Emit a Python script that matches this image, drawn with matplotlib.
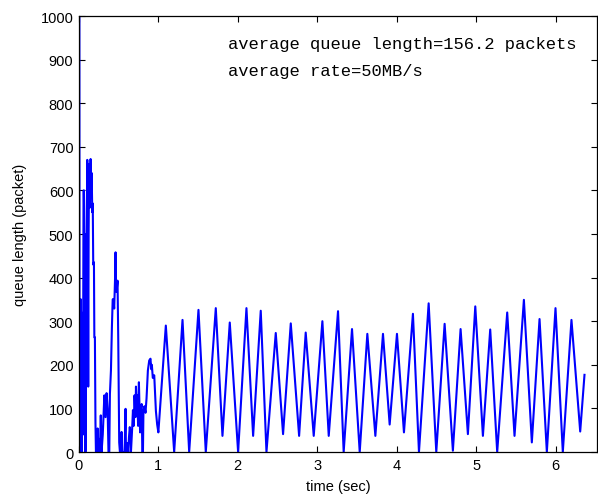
import matplotlib
matplotlib.use('Agg')
import matplotlib.pyplot as plt

# queue trace: time (s) and queue length (packets)
# start-up transient (0 - 1 s)
t_start = [0.000, 0.003, 0.008, 0.020, 0.025, 0.028, 0.032, 0.036, 0.046, 0.050,
           0.058, 0.063, 0.068, 0.075, 0.080, 0.084, 0.092, 0.100, 0.105, 0.110,
           0.117, 0.122, 0.128, 0.134, 0.138, 0.147, 0.155, 0.160, 0.168, 0.174,
           0.180, 0.189, 0.194, 0.201, 0.208, 0.214, 0.228, 0.235, 0.243, 0.255,
           0.264, 0.275, 0.285, 0.300, 0.320, 0.335, 0.348, 0.361, 0.372, 0.382,
           0.390, 0.403, 0.415, 0.425, 0.432, 0.444, 0.455, 0.461, 0.468, 0.474,
           0.486, 0.495, 0.507, 0.516, 0.530, 0.537, 0.545, 0.575, 0.587, 0.592,
           0.610, 0.621, 0.630, 0.640, 0.650, 0.655, 0.670, 0.680, 0.690, 0.700,
           0.712, 0.718, 0.725, 0.735, 0.745, 0.755, 0.770, 0.780, 0.790, 0.798,
           0.806, 0.812, 0.825, 0.838, 0.851, 0.868, 0.885, 0.901, 0.910, 0.918,
           0.930, 0.948, 0.969, 0.985]
q_start = [0, 1000, 0, 0, 350, 100, 320, 0, 220, 40,
           600, 600, 480, 500, 0, 0, 300, 560, 670, 620,
           150, 500, 660, 560, 615, 672, 600, 640, 550, 570,
           430, 435, 263, 263, 68, 0, 0, 54, 0, 30,
           0, 84, 0, 40, 130, 80, 135, 100, 0, 0,
           133, 187, 286, 350, 351, 329, 400, 458, 370, 367,
           393, 259, 22, 0, 0, 46, 0, 0, 99, 0,
           20, 0, 34, 57, 40, 0, 54, 96, 60, 130,
           80, 150, 110, 130, 60, 160, 45, 100, 110, 0,
           0, 94, 105, 90, 123, 187, 210, 214, 190, 200,
           170, 176, 94, 63]

# steady oscillation: successive troughs and peaks
t_osc = [1.000, 1.094, 1.199, 1.304, 1.388, 1.505, 1.597, 1.723, 1.807, 1.899,
         2.004, 2.109, 2.193, 2.289, 2.361, 2.478, 2.570, 2.667, 2.772, 2.855,
         2.956, 3.065, 3.145, 3.262, 3.333, 3.438, 3.535, 3.631, 3.732, 3.828,
         3.912, 4.004, 4.092, 4.205, 4.281, 4.403, 4.499, 4.604, 4.708, 4.805,
         4.897, 4.990, 5.086, 5.178, 5.266, 5.392, 5.484, 5.602, 5.702, 5.799,
         5.891, 6.000, 6.092, 6.201, 6.311, 6.365]
q_osc = [45, 290, 0, 303, 0, 326, 0, 330, 37, 297,
         0, 330, 37, 324, 0, 273, 41, 295, 37, 274,
         37, 300, 37, 323, 0, 282, 0, 271, 37, 271,
         63, 271, 45, 317, 0, 341, 0, 294, 3, 282,
         41, 334, 37, 281, 0, 320, 37, 349, 22, 305,
         0, 330, 0, 303, 47, 177]

texto = ['average queue length=156.2 packets', 'average rate=50MB/s']

t = t_start + t_osc
q = q_start + q_osc

fig = plt.figure(figsize=(5.98, 5.02), dpi=100)
ax = fig.add_axes([0.132, 0.0976, 0.866, 0.8685])

ax.plot(t, q, color=(0, 0, 1), linewidth=1.5)

ax.set_xlim(0, 6.52)
ax.set_ylim(0, 1000)
ax.set_xticks(range(0, 7))
ax.set_yticks(range(0, 1001, 100))
ax.tick_params(direction='in', top=True, right=True, length=4, width=0.8,
               labelsize=10.5, pad=4)
for lab in ax.get_xticklabels() + ax.get_yticklabels():
    lab.set_family('Liberation Sans')
for s in ax.spines.values():
    s.set_linewidth(0.9)

ax.set_xlabel('time (sec)', fontsize=10.5, family='Liberation Sans', labelpad=5)
ax.set_ylabel('queue length (packet)', fontsize=10.5, family='Liberation Sans', labelpad=10)

ax.text(1.874, 936, texto[0], fontsize=12.3, family='Liberation Mono', va='center')
ax.text(1.874, 874, texto[1], fontsize=12.3, family='Liberation Mono', va='center')

fig.savefig('out.png', dpi=100)
